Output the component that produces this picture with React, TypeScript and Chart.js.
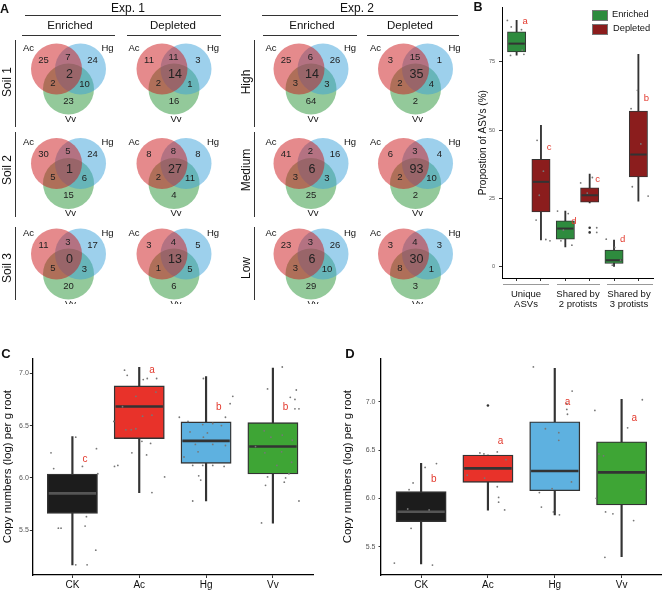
import React, { useEffect, useRef } from "react";
import { Chart, registerables } from "chart.js";
Chart.register(...registerables);

const FONT = '"Liberation Sans", Arial, Helvetica, sans-serif';
Chart.defaults.font.family = FONT;

type Pt = [number, number];

// ---------------- Panel A data (Venn counts) ----------------
// region order: Ac only, Hg only, Ac∩Hg, Ac∩Hg∩Vv, Ac∩Vv, Hg∩Vv, Vv only
const vennSets = ["Ac", "Hg", "Vv"];
const exp1Rows = ["Soil 1", "Soil 2", "Soil 3"];
const exp2Rows = ["High", "Medium", "Low"];
const vennColumns = ["Enriched", "Depleted"];
const exp1Enriched = [
  [25, 24, 7, 2, 2, 10, 23],
  [30, 24, 5, 1, 5, 6, 15],
  [11, 17, 3, 0, 5, 3, 20],
];
const exp1Depleted = [
  [11, 3, 11, 14, 2, 1, 16],
  [8, 8, 8, 27, 2, 11, 4],
  [3, 5, 4, 13, 1, 5, 6],
];
const exp2Enriched = [
  [25, 26, 6, 14, 3, 3, 64],
  [41, 16, 2, 6, 3, 3, 25],
  [23, 26, 3, 6, 3, 10, 29],
];
const exp2Depleted = [
  [3, 1, 15, 35, 2, 4, 2],
  [6, 4, 3, 93, 2, 10, 2],
  [3, 3, 4, 30, 8, 1, 3],
];

// ---------------- Panel B data ----------------
const bGroups = ["Unique\nASVs", "Shared by\n2 protists", "Shared by\n3 protists"];
const bSeries = ["Enriched", "Depleted"];
const bEnrMin = [77.5, 7.3, 0.0];
const bEnrQ1 = [78.7, 10.1, 1.2];
const bEnrMed = [81.7, 14.0, 2.4];
const bEnrQ3 = [86.0, 16.8, 6.1];
const bEnrMax = [90.2, 20.4, 9.8];
const bDepMin = [9.8, 23.4, 24.0];
const bDepQ1 = [20.1, 23.7, 32.9];
const bDepMed = [31.1, 26.2, 41.1];
const bDepQ3 = [39.3, 28.9, 57.0];
const bDepMax = [51.8, 33.9, 77.8];
const bEnrLetters = ["a", "d", "d"];
const bEnrLetterY = [90, 16.5, 10];
const bDepLetters = ["c", "c", "b"];
const bDepLetterY = [43.7, 32, 61.6];
const bYTicks = [0, 25, 50, 75];
const bDepOutliers = [[], [14.3, 12.6], []];
// jitter [offset, value]
const bEnrUniquePts: Pt[] = [[-0.38, 90.2], [-0.22, 87.8], [0.2, 86.8], [-0.25, 77.4], [0.3, 77.8], [0.23, 79.3]];
const bDepUniquePts: Pt[] = [[-0.16, 46.3], [-0.2, 17.1], [0.2, 10], [0.37, 9.5], [-0.07, 26.2], [0.1, 35]];
const bEnrS2Pts: Pt[] = [[-0.32, 20.4], [0.12, 19.5], [-0.18, 9.5], [0.27, 7.9], [-0.08, 13.4]];
const bDepS2Pts: Pt[] = [[0.29, 14.3], [0.29, 12.6], [-0.37, 30.7], [0.11, 32.7], [-0.1, 27]];
const bEnrS3Pts: Pt[] = [[-0.32, 10.1], [0.03, 7.1], [-0.07, 0.6], [0.27, 2.4]];
const bDepS3Pts: Pt[] = [[-0.04, 64.6], [-0.3, 57.9], [-0.25, 29.3], [0.4, 25.9], [0.1, 45]];

// ---------------- Panel C data ----------------
const cCategories = ["CK", "Ac", "Hg", "Vv"];
const cMin = [5.169, 5.86, 5.78, 5.567];
const cQ1 = [5.662, 6.376, 6.14, 6.038];
const cMed = [5.853, 6.682, 6.354, 6.3];
const cQ3 = [6.038, 6.879, 6.535, 6.529];
const cMax = [6.395, 7.057, 6.968, 7.05];
const cLetters = ["c", "a", "b", "b"];
const cLetterY = [6.18, 7.03, 6.68, 6.68];
const cYTicks = [5.5, 6.0, 6.5, 7.0];
const cCKPts: Pt[] = [[-0.32, 6.24], [-0.28, 6.09], [0.15, 6.11], [0.36, 6.28], [-0.21, 5.52], [-0.17, 5.52], [0.19, 5.54], [0.21, 5.63], [0.35, 5.31], [0.05, 5.17], [0.22, 5.17], [0.38, 6.04], [0.05, 6.39]];
const cAcPts: Pt[] = [[-0.22, 7.03], [-0.18, 6.98], [0.06, 6.94], [0.12, 6.95], [0.26, 6.95], [-0.05, 6.78], [0.25, 6.82], [0.05, 6.59], [0.19, 6.6], [-0.2, 6.46], [-0.12, 6.46], [-0.05, 6.47], [-0.38, 6.54], [0.04, 6.35], [0.17, 6.33], [-0.11, 6.24], [0.11, 6.22], [-0.37, 6.11], [-0.32, 6.12], [0.38, 6.01], [0.19, 5.86], [-0.25, 6.68]];
const cHgPts: Pt[] = [[-0.4, 6.58], [-0.27, 6.54], [-0.24, 6.44], [-0.05, 6.51], [0.1, 6.52], [0.23, 6.5], [0.29, 6.58], [0.36, 6.71], [0.4, 6.78], [-0.04, 6.39], [0.02, 6.43], [-0.16, 6.32], [0.1, 6.32], [0.29, 6.31], [-0.12, 6.25], [-0.33, 6.2], [-0.2, 6.12], [-0.05, 6.12], [0.1, 6.12], [0.27, 6.11], [-0.11, 6.02], [-0.08, 5.98], [-0.2, 5.78], [-0.04, 6.95]];
const cVvPts: Pt[] = [[0.14, 7.06], [-0.08, 6.85], [0.26, 6.77], [0.35, 6.84], [0.33, 6.75], [0.33, 6.66], [0.39, 6.66], [-0.13, 6.45], [-0.03, 6.39], [0.14, 6.41], [0.29, 6.36], [-0.26, 6.3], [-0.12, 6.24], [0.13, 6.25], [0.06, 6.12], [0.28, 6.15], [0.24, 6.04], [-0.08, 6.01], [0.19, 6.0], [0.17, 5.96], [-0.11, 5.93], [0.39, 5.78], [-0.17, 5.57]];

// ---------------- Panel D data ----------------
const dMin = [5.321, 5.879, 5.828, 5.397];
const dQ1 = [5.759, 6.166, 6.079, 5.931];
const dMed = [5.862, 6.31, 6.283, 6.269];
const dQ3 = [6.069, 6.448, 6.793, 6.586];
const dMax = [6.362, 6.448, 7.345, 7.024];
const dLetters = ["b", "a", "a", "a"];
const dLetterY = [6.2, 6.59, 6.99, 6.83];
const dYTicks = [5.5, 6.0, 6.5, 7.0];
const dOutliers = [[], [6.96], [], []];
const dCKPts: Pt[] = [[-0.4, 5.33], [-0.2, 5.89], [-0.12, 6.16], [0.06, 6.32], [0.23, 6.36], [-0.15, 5.69], [0.17, 5.31], [-0.18, 6.09], [0.12, 5.88]];
const dAcPts: Pt[] = [[-0.12, 6.47], [-0.06, 6.46], [0.14, 6.48], [-0.31, 6.24], [-0.05, 6.21], [0.27, 6.4], [0.14, 6.12], [0.16, 6.01], [0.16, 5.96], [0.25, 5.88]];
const dHgPts: Pt[] = [[-0.32, 7.36], [0.26, 7.11], [0.18, 6.98], [0.18, 6.92], [0.19, 6.87], [-0.14, 6.72], [0.06, 6.68], [0.06, 6.6], [0.25, 6.17], [-0.04, 6.1], [-0.23, 6.06], [-0.2, 5.91], [0.07, 5.83], [-0.02, 5.86]];
const dVvPts: Pt[] = [[-0.4, 6.91], [0.09, 6.73], [0.31, 7.02], [-0.34, 6.46], [-0.27, 6.44], [0.29, 6.09], [-0.38, 6.0], [-0.24, 5.86], [-0.13, 5.84], [0.18, 5.77], [-0.25, 5.39]];

// ---------------- layout / style constants ----------------
const VENN_COL_X = [68.5, 174, 311, 415.5];
const VENN_ROW_Y = [75, 169.5, 260];
const VENN_R = 25.5;
const CIRCLE_OFF: Pt[] = [[-12, -6], [12, -6], [0, 14]];
const CIRCLE_FILL = ["rgba(203,21,25,0.5)", "rgba(59,161,217,0.5)", "rgba(39,147,53,0.5)"];
const REGION_OFF: Pt[] = [[-25, -15], [24, -15], [-0.5, -18], [1, 0], [-15.5, 8], [16, 9], [0, 26]];
const SET_LABEL_OFF: Pt[] = [[-40, -27], [39, -27], [2, 44]];
const LETTER_RED = "#e3392d";
const ENR_FILL = "#2e8b3e";
const DEP_FILL = "#8b1d1d";
const CAT_FILLS = ["#1c1c1c", "#e8322a", "#5eb1e0", "#3ea535"];
const CAT_MED = ["#555555", "#333333", "#333333", "#333333"];

type TextItem = { x: number; y: number; text: string; size: number; color: string; bold?: boolean };

function textPlugin(items: TextItem[]) {
  return {
    id: "textMarks",
    afterDatasetsDraw(chart: any) {
      const { ctx } = chart;
      const xs = chart.scales.x;
      const ys = chart.scales.y;
      ctx.save();
      ctx.textAlign = "center";
      ctx.textBaseline = "middle";
      for (const it of items) {
        ctx.font = `${it.bold ? "700 " : ""}${it.size}px ${FONT}`;
        ctx.fillStyle = it.color;
        ctx.fillText(it.text, xs.getPixelForValue(it.x), ys.getPixelForValue(it.y));
      }
      ctx.restore();
    },
  };
}

function boxplotDatasets(
  xs: number[], mins: number[], q1s: number[], meds: number[], q3s: number[], maxs: number[],
  fills: string[], medColors: string[], boxPx: number, whiskerPx: number, borderW: number
): any[] {
  return [
    {
      type: "bar",
      data: xs.map((x, i) => ({ x, y: [mins[i], maxs[i]] })),
      backgroundColor: "#333333",
      barThickness: whiskerPx,
      grouped: false,
      order: 4,
    },
    {
      type: "bar",
      data: xs.map((x, i) => ({ x, y: [q1s[i], q3s[i]] })),
      backgroundColor: fills,
      borderColor: "#333333",
      borderWidth: borderW,
      borderSkipped: false,
      barThickness: boxPx,
      grouped: false,
      order: 3,
    },
    {
      type: "scatter",
      data: xs.map((x, i) => ({ x, y: meds[i] })),
      pointStyle: "line",
      pointRadius: boxPx / 2 - borderW,
      pointBorderWidth: boxPx > 30 ? 2.6 : 2,
      pointBorderColor: medColors,
      clip: false,
      order: 2,
    },
  ];
}

function jitterDataset(groups: Pt[][], centers: number[]) {
  const data: { x: number; y: number }[] = [];
  groups.forEach((g, gi) => g.forEach(([o, v]) => data.push({ x: centers[gi] + o, y: v })));
  return { type: "scatter", data, pointRadius: 0.9, pointBackgroundColor: "#777777", pointBorderWidth: 0, clip: false, order: 1 };
}

function outlierDataset(groups: number[][], centers: number[]) {
  const data: { x: number; y: number }[] = [];
  groups.forEach((g, gi) => g.forEach((v) => data.push({ x: centers[gi], y: v })));
  return { type: "scatter", data, pointRadius: 1.3, pointBackgroundColor: "#333333", pointBorderWidth: 0, clip: false, order: 1 };
}

const baseOptions = {
  animation: false,
  responsive: false,
  events: [],
  plugins: { legend: { display: false }, tooltip: { enabled: false } },
};

function ChartCanvas({ left, top, width, height, build }: { left: number; top: number; width: number; height: number; build: () => any }) {
  const ref = useRef<HTMLCanvasElement>(null);
  useEffect(() => {
    const chart = new Chart(ref.current as HTMLCanvasElement, build());
    return () => chart.destroy();
  }, []);
  return <canvas ref={ref} width={width} height={height} style={{ position: "absolute", left, top, width, height }} />;
}

// ---------- Panel A ----------
function buildVenn() {
  const tables = [exp1Enriched, exp1Depleted, exp2Enriched, exp2Depleted];
  const datasets = vennSets.map((name, si) => {
    const data: { x: number; y: number }[] = [];
    VENN_COL_X.forEach((cx) => VENN_ROW_Y.forEach((cy) => data.push({ x: cx + CIRCLE_OFF[si][0], y: cy + CIRCLE_OFF[si][1] })));
    return {
      type: "scatter",
      label: name,
      data,
      pointRadius: VENN_R,
      pointBackgroundColor: CIRCLE_FILL[si],
      pointBorderWidth: 0,
      clip: false,
    };
  });
  const items: TextItem[] = [];
  tables.forEach((table, ci) =>
    table.forEach((counts, ri) => {
      const cx = VENN_COL_X[ci];
      const cy = VENN_ROW_Y[ri];
      counts.forEach((n, k) =>
        items.push({ x: cx + REGION_OFF[k][0], y: cy + REGION_OFF[k][1], text: String(n), size: k === 3 ? 12.5 : 9.5, color: "#222" })
      );
      vennSets.forEach((s, si) =>
        items.push({ x: cx + SET_LABEL_OFF[si][0], y: cy + SET_LABEL_OFF[si][1], text: s, size: 9.5, color: "#111" })
      );
    })
  );
  return {
    type: "scatter",
    data: { datasets },
    options: {
      ...baseOptions,
      layout: { padding: 0, autoPadding: false },
      scales: {
        x: { type: "linear", min: 0, max: 470, display: false },
        y: { type: "linear", min: 0, max: 304, reverse: true, display: false },
      },
    },
    plugins: [textPlugin(items)],
  };
}

// ---------- Panel B ----------
function buildB() {
  const enrX = bGroups.map((_, i) => i * 2 + 1);
  const depX = bGroups.map((_, i) => i * 2 + 2);
  const boxPx = 18.3;
  const datasets = [
    ...boxplotDatasets(enrX, bEnrMin, bEnrQ1, bEnrMed, bEnrQ3, bEnrMax, enrX.map(() => ENR_FILL), enrX.map(() => "#333"), boxPx, 1.2, 1),
    ...boxplotDatasets(depX, bDepMin, bDepQ1, bDepMed, bDepQ3, bDepMax, depX.map(() => DEP_FILL), depX.map(() => "#333"), boxPx, 1.2, 1),
    jitterDataset([bEnrUniquePts, bEnrS2Pts, bEnrS3Pts], enrX),
    jitterDataset([bDepUniquePts, bDepS2Pts, bDepS3Pts], depX),
    outlierDataset(bDepOutliers, depX),
  ];
  const items: TextItem[] = [
    ...bEnrLetters.map((t, i) => ({ x: enrX[i] + 0.35, y: bEnrLetterY[i], text: t, size: 9.5, color: LETTER_RED })),
    ...bDepLetters.map((t, i) => ({ x: depX[i] + 0.33, y: bDepLetterY[i], text: t, size: 9.5, color: LETTER_RED })),
  ];
  return {
    type: "scatter",
    data: { datasets },
    options: {
      ...baseOptions,
      layout: { padding: { top: 6.7, right: 11, left: 0, bottom: 0 }, autoPadding: false },
      scales: {
        x: {
          type: "linear", min: 0.4, max: 6.6, offset: false,
          afterBuildTicks: (s: any) => { s.ticks = [...enrX, ...depX].sort((a, b) => a - b).map((v) => ({ value: v })); },
          ticks: { callback: () => "", autoSkip: false, maxRotation: 0 },
          grid: { display: true, drawOnChartArea: false, drawTicks: true, tickLength: 3, color: "#333", offset: false },
          border: { display: true, color: "#000", width: 1 },
          afterFit: (s: any) => { s.height = 32; },
        },
        y: {
          type: "linear", min: -4.1, max: 95, beginAtZero: false,
          afterBuildTicks: (s: any) => { s.ticks = bYTicks.map((v) => ({ value: v })); },
          ticks: { font: { size: 5.5 }, color: "#555", padding: 4 },
          grid: { display: true, drawOnChartArea: false, drawTicks: true, tickLength: 3, color: "#333" },
          border: { display: true, color: "#000", width: 1 },
          title: { display: true, text: "Propostion of ASVs (%)", font: { size: 10 }, color: "#111", padding: { top: 7, bottom: 0 } },
          afterFit: (s: any) => { s.width = 32; },
        },
      },
    },
    plugins: [textPlugin(items)],
  };
}

// ---------- Panels C & D ----------
function buildCopy(
  mins: number[], q1s: number[], meds: number[], q3s: number[], maxs: number[],
  pts: Pt[][], outliers: number[][], letters: string[], letterY: number[], yTicks: number[],
  yMin: number, yMax: number, yWidth: number, padRight: number, titlePad: number, tickPad: number
) {
  const xs = cCategories.map((_, i) => i + 1);
  const datasets = [
    ...boxplotDatasets(xs, mins, q1s, meds, q3s, maxs, CAT_FILLS, CAT_MED, 50.2, 1.5, 1.4),
    jitterDataset(pts, xs),
    outlierDataset(outliers, xs),
  ];
  const items: TextItem[] = letters.map((t, i) => ({ x: xs[i] + 0.19, y: letterY[i], text: t, size: 10, color: LETTER_RED }));
  return {
    type: "scatter",
    data: { datasets },
    options: {
      ...baseOptions,
      layout: { padding: { top: 28.3, right: padRight, left: 0, bottom: 0 }, autoPadding: false },
      scales: {
        x: {
          type: "linear", min: 0.4, max: 4.6, offset: false,
          afterBuildTicks: (s: any) => { s.ticks = xs.map((v) => ({ value: v })); },
          ticks: { callback: (v: any) => cCategories[Math.round(Number(v)) - 1] ?? "", font: { size: 10 }, color: "#111", padding: 1, autoSkip: false, maxRotation: 0 },
          grid: { display: true, drawOnChartArea: false, drawTicks: true, tickLength: 3, color: "#333", offset: false },
          border: { display: true, color: "#000", width: 1.3 },
          afterFit: (s: any) => { s.height = 15; },
        },
        y: {
          type: "linear", min: yMin, max: yMax, beginAtZero: false,
          afterBuildTicks: (s: any) => { s.ticks = yTicks.map((v) => ({ value: v })); },
          ticks: { callback: (v: any) => Number(v).toFixed(1), font: { size: 7 }, color: "#555", padding: tickPad },
          grid: { display: true, drawOnChartArea: false, drawTicks: true, tickLength: 2.5, color: "#333" },
          border: { display: true, color: "#000", width: 1.3 },
          title: { display: true, text: "Copy numbers (log) per g root", font: { size: 11.5 }, color: "#111", padding: { top: titlePad, bottom: 0 } },
          afterFit: (s: any) => { s.width = yWidth; },
        },
      },
    },
    plugins: [textPlugin(items)],
  };
}

// ---------- HTML helpers ----------
function T({ x, y, children, size = 12, bold = false, rotate = 0, color = "#111", lh }: any) {
  return (
    <div
      style={{
        position: "absolute", left: x, top: y,
        transform: `translate(-50%,-50%) rotate(${rotate}deg)`,
        fontSize: size, lineHeight: lh ? `${lh}px` : 1, fontWeight: bold ? 700 : 400,
        whiteSpace: "pre", color, fontFamily: FONT, textAlign: "center",
      }}
    >
      {children}
    </div>
  );
}
function HLine({ x1, x2, y, color = "#333" }: any) {
  return <div style={{ position: "absolute", left: x1, top: y - 0.5, width: x2 - x1, height: 1, background: color }} />;
}
function VLine({ x, y1, y2, color = "#333" }: any) {
  return <div style={{ position: "absolute", left: x - 0.5, top: y1, width: 1, height: y2 - y1, background: color }} />;
}

const ROW_LABEL_Y = [82, 170, 268];
const ROW_LINES: Pt[] = [[40, 127], [132, 217], [227, 300]];

export default function App() {
  return (
    <div style={{ position: "absolute", left: 0, top: 0, width: 664, height: 590, background: "#fff", overflow: "hidden", fontFamily: FONT }}>
      {/* Panel A */}
      <div style={{ position: "absolute", left: 0, top: 0, width: 470, height: 304, overflow: "hidden" }}>
        <ChartCanvas left={0} top={0} width={470} height={304} build={buildVenn} />
        <T x={4.5} y={9} size={12.5} bold>A</T>
        <T x={128} y={7.5} size={12}>Exp. 1</T>
        <T x={357} y={7.5} size={12}>Exp. 2</T>
        <HLine x1={25} x2={221} y={15} />
        <HLine x1={262} x2={458} y={15} />
        <T x={70} y={26} size={11.5}>{vennColumns[0]}</T>
        <T x={173} y={26} size={11.5}>{vennColumns[1]}</T>
        <T x={312} y={26} size={11.5}>{vennColumns[0]}</T>
        <T x={410} y={26} size={11.5}>{vennColumns[1]}</T>
        <HLine x1={22} x2={115} y={35} />
        <HLine x1={127} x2={221} y={35} />
        <HLine x1={263} x2={357} y={35} />
        <HLine x1={367} x2={459} y={35} />
        {exp1Rows.map((r, i) => (
          <T key={r} x={7} y={ROW_LABEL_Y[i]} size={12} rotate={-90}>{r}</T>
        ))}
        {exp2Rows.map((r, i) => (
          <T key={r} x={246} y={ROW_LABEL_Y[i]} size={12} rotate={-90}>{r}</T>
        ))}
        {ROW_LINES.map(([a, b], i) => (
          <React.Fragment key={i}>
            <VLine x={15} y1={a} y2={b} />
            <VLine x={254} y1={a} y2={b} />
          </React.Fragment>
        ))}
      </div>

      {/* Panel B */}
      <ChartCanvas left={470} top={0} width={194} height={310} build={buildB} />
      <T x={478} y={6.5} size={12.5} bold>B</T>
      {[[503, 549], [557, 600], [607, 653]].map(([a, b], i) => (
        <HLine key={i} x1={a} x2={b} y={284} color="#999" />
      ))}
      {bGroups.map((g, i) => (
        <T key={g} x={[526, 578, 629][i]} y={298.5} size={9.5} lh={10}>{g}</T>
      ))}
      <div style={{ position: "absolute", left: 592, top: 10, width: 14, height: 9, background: ENR_FILL, border: "1px solid #777" }} />
      <div style={{ position: "absolute", left: 592, top: 23.5, width: 14, height: 9, background: DEP_FILL, border: "1px solid #777" }} />
      <div style={{ position: "absolute", left: 612, top: 15, transform: "translateY(-50%)", fontSize: 9.3, lineHeight: 1, whiteSpace: "nowrap", color: "#111" }}>{bSeries[0]}</div>
      <div style={{ position: "absolute", left: 613, top: 29, transform: "translateY(-50%)", fontSize: 9.3, lineHeight: 1, whiteSpace: "nowrap", color: "#111" }}>{bSeries[1]}</div>

      {/* Panel C */}
      <ChartCanvas
        left={0} top={330} width={330} height={260}
        build={() => buildCopy(cMin, cQ1, cMed, cQ3, cMax, [cCKPts, cAcPts, cHgPts, cVvPts], [[], [], [], []], cLetters, cLetterY, cYTicks, 5.073, 7.143, 32.3, 17, 1.1, 1)}
      />
      <T x={6} y={353} size={13} bold>C</T>

      {/* Panel D */}
      <ChartCanvas
        left={330} top={330} width={334} height={260}
        build={() => buildCopy(dMin, dQ1, dMed, dQ3, dMax, [dCKPts, dAcPts, dHgPts, dVvPts], dOutliers, dLetters, dLetterY, dYTicks, 5.207, 7.449, 51, 2.3, 11.1, 3)}
      />
      <T x={350} y={353} size={13} bold>D</T>
    </div>
  );
}
